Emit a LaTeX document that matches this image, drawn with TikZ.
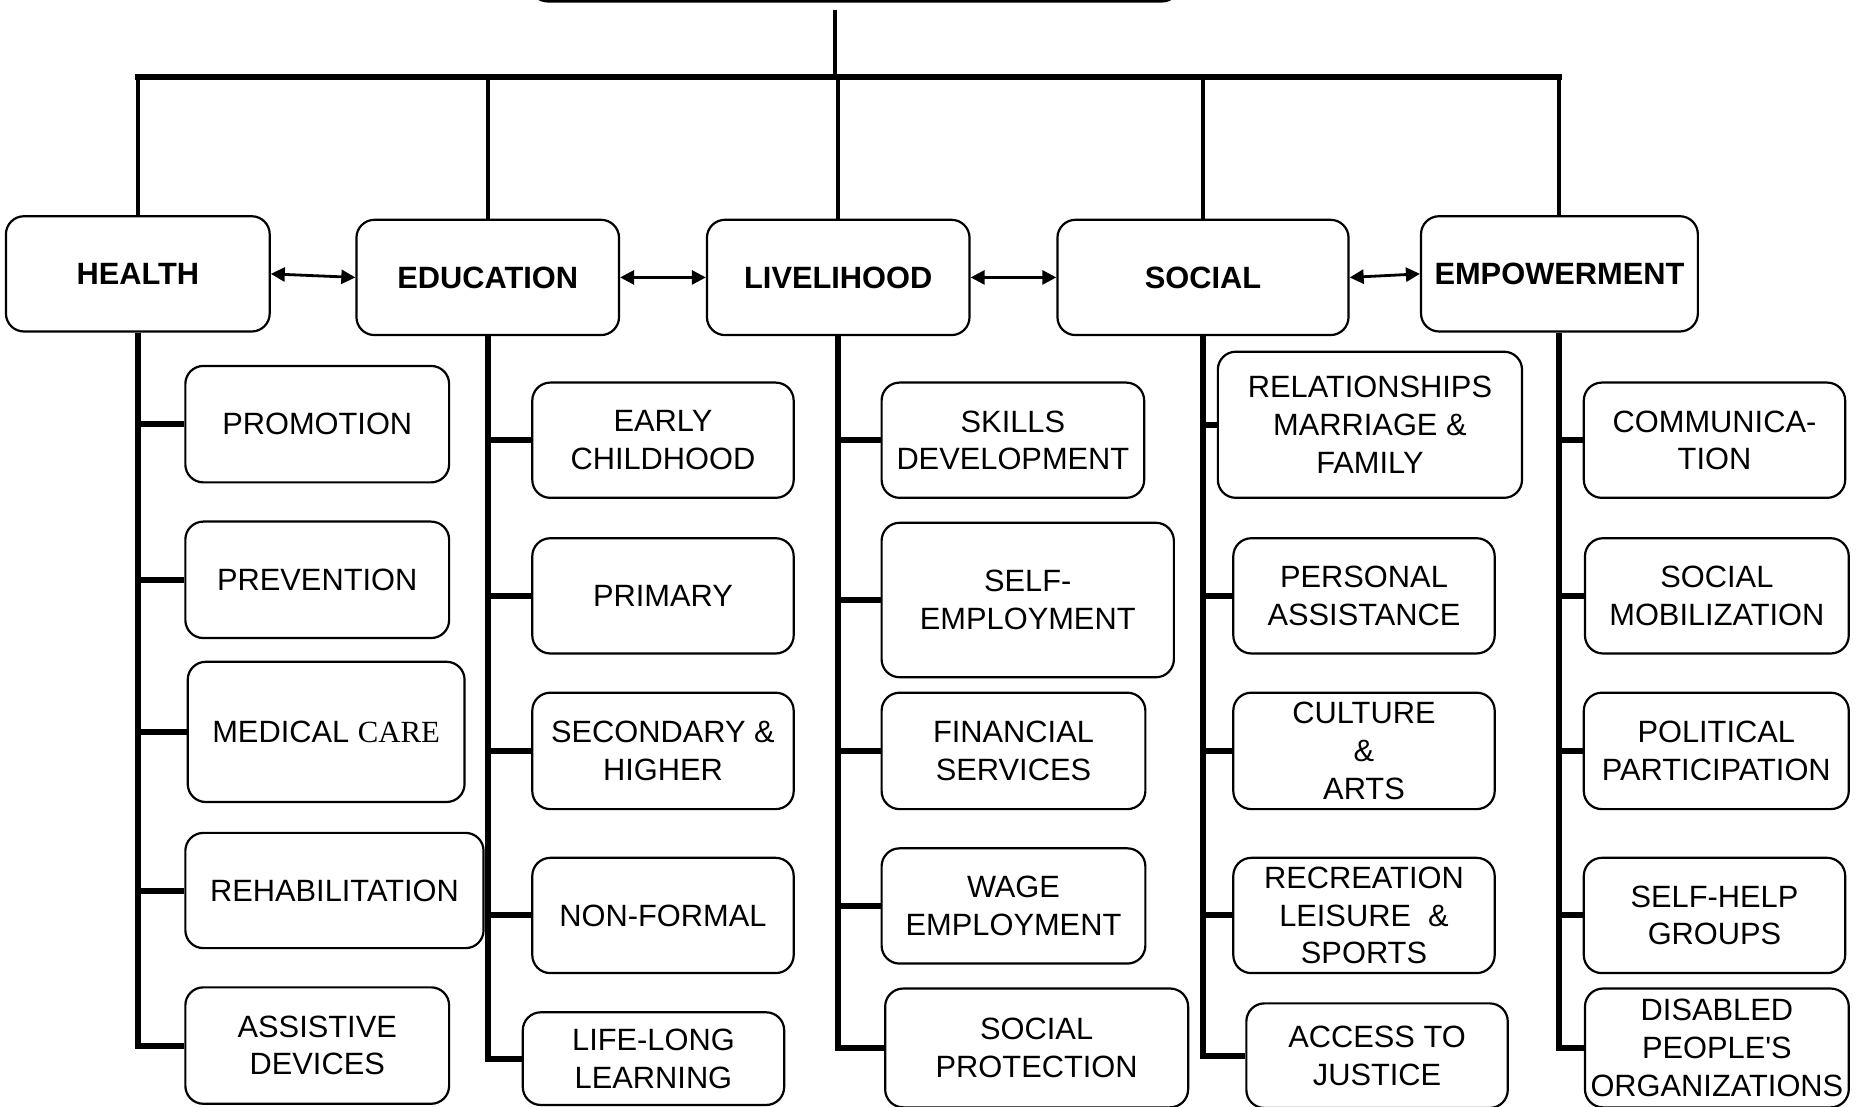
\documentclass[tikz,border=0pt]{standalone}
\usepackage{fontspec}
\setmainfont{Liberation Sans}
\newfontfamily\serifcare{Liberation Serif}
\newfontfamily\plainsans[Ligatures=ResetAll]{Liberation Sans}
\usetikzlibrary{arrows.meta}
\def\u{0.594pt}
\begin{document}
\begin{tikzpicture}[x=0.594pt,y=-0.594pt,
  box/.style={draw, line width=1.1pt, rounded corners=9pt, align=center, inner sep=0pt,
    font=\fontsize{15.4}{18.8}\selectfont},
  head/.style={box, font=\fontsize{15.4}{18.8}\selectfont\bfseries},
  sz/.style 2 args={minimum width=#1*\u, minimum height=#2*\u},
  bus/.style={line width=3pt},
  trunk/.style={line width=2.2pt},
  vline/.style={line width=2pt},
  spine/.style={line width=3pt, line join=miter},
  branch/.style={line width=3pt},
  link/.style={line width=1.4pt, {Triangle[length=7pt,width=7pt]}-{Triangle[length=7pt,width=7pt]}}
]
\useasboundingbox (0,0) rectangle (1568,931);

% top box (cut off)
\node[box, sz={547}{80}, line width=1.4pt] (top) at (719.5,-39) {};

% headers
\node[head, sz={222}{97}] (health) at (116,230.5) {HEALTH};
\node[head, sz={221}{97}] (edu) at (410.5,233.5) {EDUCATION};
\node[head, sz={221}{97}] (live) at (705.5,233.5) {LIVELIHOOD};
\node[head, sz={245}{97}] (social) at (1012.5,233.5) {SOCIAL};
\node[head, sz={233}{97}] (emp) at (1312.5,230.5) {EMPOWERMENT};

% health children
\node[box, sz={222}{98}] (promo) at (267,357) {PROMOTION};
\node[box, sz={222}{98}] (prev) at (267,488) {PREVENTION};
\node[box, sz={233}{118}] (med) at (274.5,616) {MEDICAL {\serifcare CARE}};
\node[box, sz={251}{97}] (rehab) at (281.5,749.5) {REHABILITATION};
\node[box, sz={222}{98}] (assist) at (267,880) {ASSISTIVE\\DEVICES};

% education children
\node[box, sz={220}{97}] (early) at (558,370.5) {EARLY\\CHILDHOOD};
\node[box, sz={220}{97}] (primary) at (558,501.5) {PRIMARY};
\node[box, sz={220}{98}] (second) at (558,632) {SECONDARY \&\\HIGHER};
\node[box, sz={220}{97}] (nonformal) at (558,770.5) {NON-FORMAL};
\node[box, sz={220}{78}] (lifelong) at (550,891) {LIFE-LONG\\LEARNING};

% livelihood children
\node[box, sz={221}{97}] (skills) at (852.5,370.5) {SKILLS\\DEVELOPMENT};
\node[box, sz={246}{130}] (selfemp) at (865,505) {SELF-\\EMPLOYMENT};
\node[box, sz={222}{98}] (financial) at (853,632) {FINANCIAL\\SERVICES};
\node[box, sz={222}{97}] (wage) at (853,762.5) {WAGE\\EMPLOYMENT};
\node[box, sz={255}{100}] (socprot) at (872.5,882) {SOCIAL\\PROTECTION};

% social children
\node[box, sz={256}{123}] (relation) at (1153,357.5) {RELATIONSHIPS\\MARRIAGE \&\\FAMILY};
\node[box, sz={220}{97}] (personal) at (1148,501.5) {PERSONAL\\ASSISTANCE};
\node[box, sz={220}{98}] (culture) at (1148,632) {CULTURE\\\&\\ARTS};
\node[box, sz={220}{97}] (recreation) at (1148,770.5) {RECREATION\\LEISURE~~\&\\SPORTS};
\node[box, sz={220}{88}] (justice) at (1159,888.5) {ACCESS TO\\JUSTICE};

% empowerment children
\node[box, sz={220}{97}] (comm) at (1443,370.5) {COMMUNICA-\\TION};
\node[box, sz={222}{97}] (mobil) at (1445,501.5) {SOCIAL\\MOBILIZATION};
\node[box, sz={223}{98}] (political) at (1444.5,632) {POLITICAL\\PARTICIPATION};
\node[box, sz={220}{97}] (selfhelp) at (1443,770.5) {SELF-HELP\\GROUPS};
\node[box, sz={222}{100}] (dpo) at (1445,882) {DISABLED\\PEOPLE{\plainsans '}S\\ORGANIZATIONS};

% trunk and bus
\coordinate (hub) at (703,65);
\draw[trunk, shorten <=6*\u] (top.south -| hub) -- (hub);
\draw[bus] ([xshift=-1.5pt]health.north |- hub) -- ([xshift=1.5pt]emp.north |- hub);
\foreach \h in {health,edu,live,social,emp}
  \draw[vline] (\h.north |- hub) -- (\h.north);

% arrows between headers
\draw[link] (health.east) -- (edu.west);
\draw[link] (edu.east) -- (live.west);
\draw[link] (live.east) -- (social.west);
\draw[link] (social.east) -- (emp.west);

% spines and branches
\draw[spine] (health.south) -- (health.south |- assist.west) -- (assist.west);
\foreach \c in {promo,prev,med,rehab} \draw[branch] (health.south |- \c.west) -- (\c.west);

\draw[spine] (edu.south) -- (edu.south |- lifelong.west) -- (lifelong.west);
\foreach \c in {early,primary,second,nonformal} \draw[branch] (edu.south |- \c.west) -- (\c.west);

\draw[spine] (live.south) -- (live.south |- socprot.west) -- (socprot.west);
\foreach \c in {skills,selfemp,financial,wage} \draw[branch] (live.south |- \c.west) -- (\c.west);

\draw[spine] (social.south) -- (social.south |- justice.west) -- (justice.west);
\foreach \c in {relation,personal,culture,recreation} \draw[branch] (social.south |- \c.west) -- (\c.west);

\draw[spine] (emp.south) -- (emp.south |- dpo.west) -- (dpo.west);
\foreach \c in {comm,mobil,political,selfhelp} \draw[branch] (emp.south |- \c.west) -- (\c.west);
\end{tikzpicture}
\end{document}
